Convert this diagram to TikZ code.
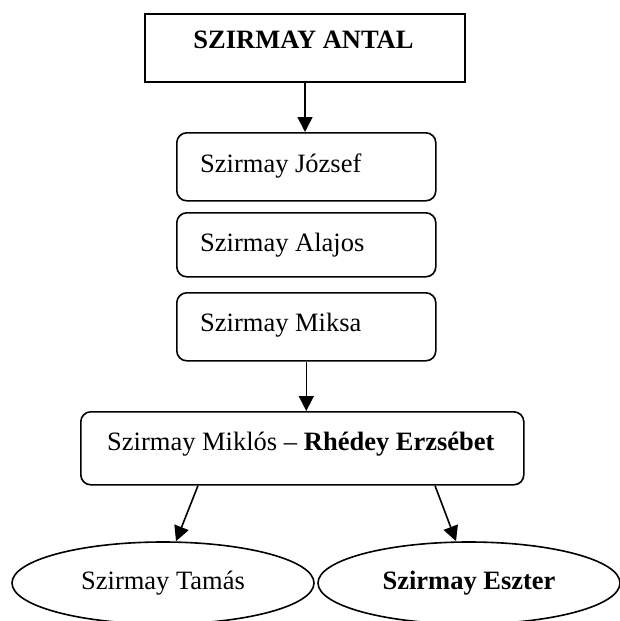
\documentclass[tikz,border=0pt]{standalone}
\usepackage{fontspec}
\setmainfont{Liberation Serif}
\usetikzlibrary{arrows.meta,shapes.geometric}
\begin{document}
\begin{tikzpicture}[x=1pt,y=-1pt,
  txt/.style={inner sep=0pt,font=\fontsize{26.5pt}{30pt}\selectfont},
  sqbox/.style={draw,line width=2pt,inner sep=0pt,anchor=north west},
  rbox/.style={draw,line width=1.6pt,rounded corners=10pt,inner sep=0pt,anchor=north west},
  oval/.style={draw,ellipse,line width=1.6pt,inner sep=0pt,minimum width=302pt,minimum height=82pt,font=\fontsize{26.5pt}{30pt}\selectfont},
  arr/.style={line width=1.6pt,-{Triangle[length=15pt,width=15pt]}}]
\useasboundingbox (0,0) rectangle (620,621);
\clip (0,0) rectangle (620,621);
% boxes
\node[sqbox,minimum width=320pt,minimum height=68pt] (antal) at (144,13) {};
\node[rbox,minimum width=259pt,minimum height=68pt] (jozsef) at (176,132) {};
\node[rbox,minimum width=259pt,minimum height=64pt] (alajos) at (176,212) {};
\node[rbox,minimum width=259pt,minimum height=68pt] (miksa) at (176,292) {};
\node[rbox,minimum width=443pt,minimum height=73pt] (miklos) at (80,411) {};
% texts
\node[txt,anchor=base] (tantal) at (303.5,48) {\textbf{SZIRMAY ANTAL}};
\node[txt,anchor=base west] (tjozsef) at (200,172) {Szirmay József};
\node[txt,anchor=base west] (talajos) at (200,251) {Szirmay Alajos};
\node[txt,anchor=base west] (tmiksa) at (200,331) {Szirmay Miksa};
\node[txt,anchor=base west] (tmiklos) at (107,450) {Szirmay Miklós – \textbf{Rhédey Erzsébet}};
% ellipses
\node[oval] (tamas) at (163,583) {Szirmay Tamás};
\node[oval] (eszter) at (469,583) {\textbf{Szirmay Eszter}};
% connectors
\draw[arr] (antal.south) -- (antal.south |- jozsef.north);
\draw[arr] (miksa.south) -- (miksa.south |- miklos.north);
\draw[arr] ([xshift=118pt]miklos.south west) -- ([xshift=13pt]tamas.north);
\draw[arr] ([xshift=355pt]miklos.south west) -- ([xshift=-13pt]eszter.north);
\end{tikzpicture}
\end{document}
